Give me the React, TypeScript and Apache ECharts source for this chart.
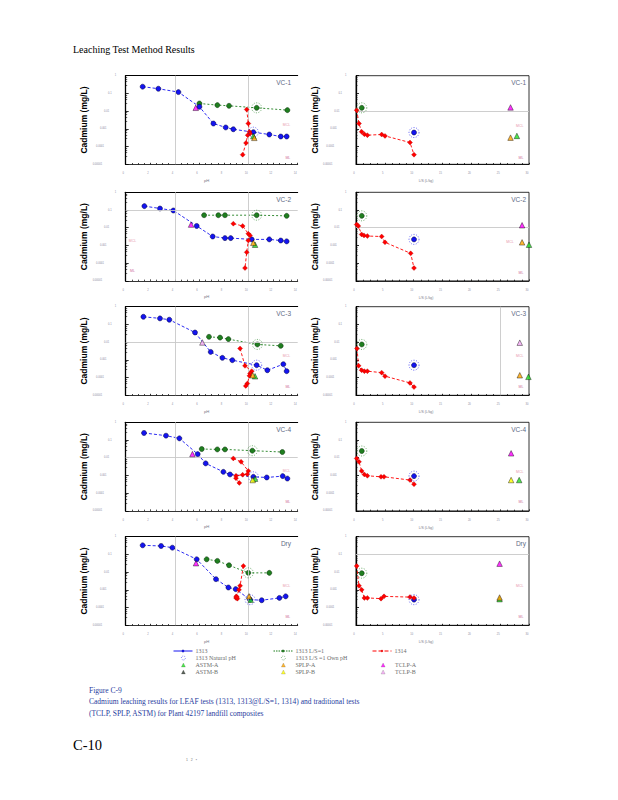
import React, { useEffect, useRef } from "react";
import * as echarts from "echarts";

// ---------------- text ----------------
const pageTitle = "Leaching Test Method Results";
const captionLines = [
  "Figure C-9",
  "Cadmium leaching results for LEAF tests (1313, 1313@L/S=1, 1314) and traditional tests",
  "(TCLP, SPLP, ASTM) for Plant 42197 landfill composites",
];
const pageNumber = "C-10";
const panelNames = ["VC-1", "VC-2", "VC-3", "VC-4", "Dry"];
const yTickLabels = ["0.00001", "0.0001", "0.001", "0.01", "0.1", "1"];
const phAxisName = "pH";
const lsAxisName = "L/S (L/kg)";
const yAxisName = "Cadmium (mg/L)";
const refLabels = ["MCL", "ML"];
const legendLine1 = ["1313"];
const legendMark1 = ["1313 Natural pH", "ASTM-A", "ASTM-B"];
const legendLine2 = ["1313 L/S=1"];
const legendMark2 = ["1313 L/S =1 Own pH", "SPLP-A", "SPLP-B"];
const legendLine3 = ["1314"];
const legendMark3 = ["TCLP-A", "TCLP-B"];
const tradNames = ["ASTM-A", "ASTM-B", "SPLP-A", "SPLP-B", "TCLP-A", "TCLP-B"];
const tradKeys = ["astmA", "astmB", "splpA", "splpB", "tclpA", "tclpB"];

// ---------------- data: pH panels [pH, mg/L] ----------------
const vc1Ph = {
  s1313: [[1.38, 0.24], [2.66, 0.184], [4.29, 0.119], [6.0, 0.0176], [7.14, 0.002], [8.14, 0.0012], [8.76, 0.00095], [10.39, 0.00065], [11.69, 0.00048], [12.62, 0.00037], [13.1, 0.00037]],
  nat1313: [[10.39, 0.00065]],
  ls1: [[6.0, 0.027], [7.46, 0.0219], [8.41, 0.02], [10.66, 0.0154], [13.16, 0.0114]],
  natLs1: [[10.66, 0.0154]],
  s1314: [[9.85, 0.0124], [9.98, 0.002], [10.07, 0.00068], [10.12, 0.00055], [9.93, 0.00044], [9.79, 0.00016], [9.52, 3.5e-5]],
  tclpA: [[5.7, 0.0154]], splpA: [[10.47, 0.00031]], astmA: [[10.39, 0.00039]],
};
const vc2Ph = {
  s1313: [[1.52, 0.166], [2.79, 0.122], [3.88, 0.094], [5.78, 0.0126], [7.08, 0.0032], [8.08, 0.0026], [8.55, 0.0026], [10.26, 0.0022], [11.69, 0.0022], [12.62, 0.0019], [13.1, 0.0017]],
  nat1313: [],
  ls1: [[6.38, 0.051], [7.54, 0.051], [8.08, 0.051], [10.66, 0.051], [13.1, 0.047]],
  natLs1: [[10.66, 0.051]],
  s1314: [[8.76, 0.017], [9.52, 0.0126], [9.98, 0.0046], [10.12, 0.0037], [9.98, 0.0019], [9.85, 0.00041], [9.71, 5.3e-5]],
  tclpA: [[5.32, 0.015]], splpA: [[10.39, 0.0014]], astmA: [[10.53, 0.0011]],
};
const vc3Ph = {
  s1313: [[1.44, 0.27], [2.79, 0.219], [3.55, 0.184], [5.64, 0.035], [6.92, 0.0028], [7.87, 0.0013], [8.68, 0.00096], [10.66, 0.0005], [11.53, 0.00026], [12.83, 0.00057], [13.1, 0.00023]],
  nat1313: [[10.66, 0.0005]],
  ls1: [[6.78, 0.02], [7.68, 0.018], [8.36, 0.0148], [10.72, 0.0074], [12.62, 0.0062]],
  natLs1: [[10.72, 0.0074]],
  s1314: [[9.31, 0.0044], [9.71, 0.00046], [10.26, 0.00023], [10.12, 0.00017], [10.07, 0.000125], [9.9, 4.6e-5], [9.77, 3.4e-5]],
  tclpB: [[6.24, 0.0096]], splpA: [[10.34, 0.000135]], astmA: [[10.53, 0.000118]],
};
const vc4Ph = {
  s1313: [[1.49, 0.25], [3.28, 0.176], [4.37, 0.124], [5.86, 0.016], [6.51, 0.0048], [7.95, 0.0016], [8.49, 0.00114], [10.39, 0.00084], [11.48, 0.00077], [12.78, 0.00092], [13.16, 0.00067]],
  nat1313: [[10.39, 0.00084]],
  ls1: [[6.19, 0.031], [7.46, 0.0295], [8.08, 0.0295], [10.31, 0.025], [12.75, 0.021]],
  natLs1: [[10.31, 0.025]],
  s1314: [[8.76, 0.0092], [9.39, 0.0059], [9.98, 0.0018], [9.9, 0.00118], [9.52, 0.0011], [8.98, 0.00095], [8.98, 0.0007], [9.25, 0.00038]],
  tclpA: [[5.43, 0.016]], splpB: [[10.34, 0.00055]], astmA: [[10.53, 0.00066]],
};
const dryPh = {
  s1313: [[1.38, 0.326], [2.88, 0.3], [3.8, 0.24], [5.78, 0.053], [7.35, 0.004], [8.36, 0.00136], [8.95, 0.0011], [10.12, 0.00028], [11.07, 0.00026], [12.51, 0.00035], [13.02, 0.00043]],
  nat1313: [[10.12, 0.00028]],
  ls1: [[6.59, 0.053], [7.46, 0.043], [8.41, 0.0245], [9.98, 0.0091], [11.69, 0.0091]],
  natLs1: [[9.98, 0.0091]],
  s1314: [[9.58, 0.0224], [9.31, 0.0017], [9.22, 0.001], [8.98, 0.00035], [9.09, 0.00032], [9.0, 0.00043], [9.05, 0.00039]],
  tclpA: [[5.72, 0.032]], splpA: [[10.04, 0.00043]], astmA: [[10.17, 0.00028]],
};

// ---------------- data: L/S panels [L/S, mg/L] ----------------
const vc1Ls = {
  s1313: [[10.06, 0.00062]], ls1: [[1, 0.0154]],
  s1314: [[0.12, 0.0114], [0.52, 0.002], [0.98, 0.00068], [1.45, 0.0005], [1.97, 0.00044], [4.45, 0.00048], [5.03, 0.0004], [9.36, 0.00017], [10.06, 3.5e-5]],
  tclpA: [[26.8, 0.0162]], splpA: [[26.8, 0.00032]], astmA: [[27.9, 0.0004]],
};
const vc2Ls = {
  s1313: [[10.06, 0.0022]], ls1: [[1, 0.047]],
  s1314: [[0.12, 0.015], [0.4, 0.0126], [0.98, 0.0042], [1.39, 0.0037], [1.97, 0.0034], [4.45, 0.0032], [5.03, 0.0015], [9.48, 0.00036], [10.06, 5.3e-5]],
  tclpA: [[28.8, 0.0138]], splpA: [[28.8, 0.0015]], astmA: [[30, 0.0011]],
};
const vc3Ls = {
  s1313: [[10.06, 0.0005]], ls1: [[1, 0.0074]],
  s1314: [[0.17, 0.0044], [0.46, 0.00046], [0.98, 0.00026], [1.45, 0.00023], [1.97, 0.00023], [4.45, 0.00019], [5.03, 0.00012], [9.36, 5e-5], [10.06, 2.9e-5]],
  tclpB: [[28.4, 0.0093]], splpA: [[28.4, 0.000135]], astmA: [[29.9, 0.00011]],
};
const vc4Ls = {
  s1313: [[10.06, 0.00092]], ls1: [[1, 0.024]],
  s1314: [[0.12, 0.0092], [0.52, 0.0059], [0.98, 0.0018], [1.45, 0.00114], [1.97, 0.00096], [4.34, 0.00084], [4.86, 0.00084], [9.36, 0.00055], [10.06, 0.00032]],
  tclpA: [[26.9, 0.0178]], splpB: [[26.9, 0.00055]], astmA: [[28.3, 0.00055]],
};
const dryLs = {
  s1313: [[10.06, 0.00028]], ls1: [[1, 0.0087]],
  s1314: [[0.12, 0.0224], [0.52, 0.0017], [0.98, 0.001], [1.45, 0.00035], [1.97, 0.00035], [4.34, 0.00032], [4.86, 0.00043], [9.36, 0.00039], [10.06, 0.00035]],
  tclpA: [[24.9, 0.03]], splpA: [[24.9, 0.00037]], astmA: [[24.9, 0.0003]],
};

// ---------------- reference lines / labels ----------------
const phGrayLines = [[1e-4], [0.1], [0.01], [0.01], [0.001]];
const phDashedLines = [[1e-3], [], [], [], []];
const phMlLines = [[1.7e-5], [1.9e-5], [], [], []];
const phVerticalLines = [4, 10];
const lsGrayLines = [[0.01, 1e-4], [0.01], [0.001], [], [0.1]];
const lsDashedLines = [[], [], [], [0.001], [0.001]];
const lsMlLines = [[1.7e-5], [1.9e-5], [], [1.8e-5], [1.8e-5]];
const lsVerticalLines = [[], [], [25], [], []];
const phMclPos = [[13.08, 0.00155], [0.55, 0.0019], [13.08, 0.0017], [13.08, 0.0018], [13.08, 0.00155]];
const phMlPos = [[13.2, 2.4e-5], [0.55, 3.4e-5], [13.2, 2.95e-5], [13.2, 3.2e-5], [13.2, 2.9e-5]];
const lsMclPos = [[28.4, 0.0014], [26.7, 0.00155], [28.4, 0.0017], [28.4, 0.0016], [28.4, 0.00155]];
const lsMlPos = [[28.6, 2.4e-5], [28.6, 2.75e-5], [28.6, 2.95e-5], [28.6, 3.1e-5], [28.6, 2.9e-5]];

const phPanels = [vc1Ph, vc2Ph, vc3Ph, vc4Ph, dryPh];
const lsPanels = [vc1Ls, vc2Ls, vc3Ls, vc4Ls, dryLs];

// ---------------- layout / style ----------------
const SERIF = "'Liberation Serif','Times New Roman',serif";
const SANS = "'Liberation Sans',Arial,sans-serif";
const GRID_X = [125.7, 356];
const GRID_W = [172, 173];
const ROW_TOP = [75.7, 192.3, 306.7, 422.3, 536.7];
const GRID_H = 88.6;
const tradColors = ["#22e022", "#2e3a2e", "#ffa500", "#ffff00", "#ff00ff", "#f4a6f4"];
const BLUE = "#1414f0";
const GREEN = "#1f7f1f";
const RED = "#ff0000";
const TICK_COLOR = "#8a8aa0";
const LABEL_PAD = [0, 4.4, 7, 9.6, 12.1, 14];

function buildOption() {
  const grid: any[] = [];
  const xAxis: any[] = [];
  const topAxes: any[] = [];
  const yAxis: any[] = [];
  const series: any[] = [];
  const graphic: any[] = [];

  const rich: any = {};
  for (let k = 0; k < 6; k++) {
    rich["p" + k] = { fontSize: 2.6, color: TICK_COLOR, fontFamily: SANS, padding: [0, LABEL_PAD[5 - k], 0, 0] };
  }

  for (let i = 0; i < 5; i++) {
    for (let side = 0; side < 2; side++) {
      const gi = i * 2 + side;
      const isPh = side === 0;
      const d: any = isPh ? phPanels[i] : lsPanels[i];
      grid.push({
        left: GRID_X[side], top: ROW_TOP[i], width: GRID_W[side], height: GRID_H,
        show: !isPh, borderColor: "#000", borderWidth: 0.8, backgroundColor: "transparent",
      });
      xAxis.push({
        gridIndex: gi, type: "value", min: 0, max: isPh ? 14 : 30, interval: isPh ? 2 : 5, position: "bottom",
        axisLine: { show: true, onZero: false, lineStyle: { color: "#000", width: 0.8 } },
        axisTick: { show: true, inside: true, length: 1.5, lineStyle: { color: "#000", width: 0.8 } },
        minorTick: { show: true, splitNumber: 4, length: 1.2, lineStyle: { color: "#000", width: 0.8 } },
        axisLabel: { fontSize: 2.6, color: TICK_COLOR, margin: 8, padding: [0, isPh ? 4.8 : 4, 0, 0], fontFamily: SANS },
        splitLine: { show: false },
        name: isPh ? phAxisName : lsAxisName, nameLocation: "middle", nameGap: isPh ? 13.7 : 15.4,
        nameTextStyle: { fontSize: isPh ? 4.2 : 3.4, color: "#7a7a8a", fontFamily: SANS, padding: isPh ? [0, 10, 0, 0] : [0, 33, 0, 0] },
      });
      if (isPh) {
        topAxes.push({
          gridIndex: gi, type: "value", min: 0, max: 14, position: "top",
          axisLine: { show: true, onZero: false, lineStyle: { color: "#000", width: 1 } },
          axisTick: { show: false }, axisLabel: { show: false }, splitLine: { show: false },
        });
      }
      yAxis.push({
        gridIndex: gi, type: "log", logBase: 10, min: 1e-5, max: 1,
        axisLine: { show: true, lineStyle: { color: "#000", width: 1.3 } },
        axisTick: { show: true, inside: true, length: 3, lineStyle: { color: "#000", width: 0.8 } },
        minorTick: { show: true, splitNumber: 5, length: 1.5, lineStyle: { color: "#000", width: 0.6 } },
        axisLabel: {
          margin: 9.6, fontSize: 2.6, color: TICK_COLOR,
          formatter: (v: number) => {
            const k = Math.max(0, Math.min(5, Math.round(Math.log10(v)) + 5));
            return "{p" + k + "|" + yTickLabels[k] + "}";
          },
          rich,
        },
        splitLine: { show: false },
        name: yAxisName, nameLocation: "middle", nameGap: isPh ? 34.8 : 32.5,
        nameTextStyle: { fontSize: 8.5, fontWeight: "bold", color: "#000", fontFamily: SANS },
      });

      const ml: any[] = [];
      const grays = isPh ? phGrayLines[i] : lsGrayLines[i];
      const dashes = isPh ? phDashedLines[i] : lsDashedLines[i];
      const mls = isPh ? phMlLines[i] : lsMlLines[i];
      const verts = isPh ? phVerticalLines : lsVerticalLines[i];
      verts.forEach((v) => ml.push({ xAxis: v, lineStyle: { color: "#c8c8c8", width: 0.9, type: "solid" } }));
      grays.forEach((v) => ml.push({ yAxis: v, lineStyle: { color: "#c8c8c8", width: 0.9, type: "solid" } }));
      dashes.forEach((v) => ml.push({ yAxis: v, lineStyle: { color: "#a81c1c", width: 1, type: [5, 3] } }));
      mls.forEach((v) => ml.push({ yAxis: v, lineStyle: { color: "#d40000", width: 1, type: "solid" } }));
      const mclPos = isPh ? phMclPos[i] : lsMclPos[i];
      const mlPos = isPh ? phMlPos[i] : lsMlPos[i];
      series.push({
        type: "line", name: "refs" + gi, xAxisIndex: gi, yAxisIndex: gi, data: [], z: 1, silent: true,
        markLine: { silent: true, symbol: ["none", "none"], label: { show: false }, data: ml, animation: false },
        markPoint: {
          silent: true, animation: false,
          data: [
            { name: refLabels[0], coord: mclPos, symbol: "rect", symbolSize: 1, itemStyle: { color: "rgba(0,0,0,0)" },
              label: { show: true, position: "inside", formatter: refLabels[0], color: "#e89aae", fontSize: 3.5, fontFamily: SANS } },
            { name: refLabels[1], coord: mlPos, symbol: "rect", symbolSize: 1, itemStyle: { color: "rgba(0,0,0,0)" },
              label: { show: true, position: "inside", formatter: refLabels[1], color: "#cf6f9c", fontSize: 3.5, fontFamily: SANS } },
          ],
        },
      });

      const common = { xAxisIndex: gi, yAxisIndex: gi, animation: false };
      series.push({
        ...common, type: "line", name: "1313 L/S=1", data: d.ls1, z: 3,
        symbol: "circle", symbolSize: 5, showSymbol: true,
        lineStyle: { color: GREEN, width: 0.9, type: [2, 2] },
        itemStyle: { color: GREEN, borderColor: "#042a04", borderWidth: 0.5 },
      });
      series.push({
        ...common, type: "line", name: "1313", data: d.s1313, z: 4,
        symbol: "circle", symbolSize: 5, showSymbol: true,
        lineStyle: { color: BLUE, width: 0.9, type: [3, 2] },
        itemStyle: { color: BLUE, borderColor: "#00003a", borderWidth: 0.5 },
      });
      series.push({
        ...common, type: "line", name: "1314", data: d.s1314, z: 5,
        symbol: "diamond", symbolSize: 5, showSymbol: true,
        lineStyle: { color: RED, width: 0.9, type: [3, 2] },
        itemStyle: { color: RED, borderColor: "#a00000", borderWidth: 0.3 },
      });
      series.push({
        ...common, type: "scatter", name: "1313 Natural pH", data: isPh ? d.nat1313 : d.s1313, z: 6,
        symbol: "circle", symbolSize: 10,
        itemStyle: { color: "rgba(0,0,0,0)", borderColor: BLUE, borderWidth: 0.8, borderType: [1, 1.5] },
      });
      series.push({
        ...common, type: "scatter", name: "1313 L/S =1 Own pH", data: isPh ? d.natLs1 : d.ls1, z: 6,
        symbol: "circle", symbolSize: 10,
        itemStyle: { color: "rgba(0,0,0,0)", borderColor: GREEN, borderWidth: 0.8, borderType: [1, 1.5] },
      });
      tradNames.forEach((nm, t) => {
        series.push({
          ...common, type: "scatter", name: nm, data: d[tradKeys[t]] || [], z: 7,
          symbol: "triangle", symbolSize: 5.5,
          itemStyle: { color: tradColors[t], borderColor: "#000", borderWidth: 0.5 },
        });
      });

      graphic.push({
        type: "text", silent: true,
        style: {
          text: panelNames[i], x: isPh ? 291 : 526, y: ROW_TOP[i] + 7,
          align: "right", verticalAlign: "middle", fontSize: 6.5, fontFamily: SANS, fill: "#626a84",
        },
      });
    }
  }

  graphic.push({
    type: "text", silent: true,
    style: { text: pageTitle, x: 73, y: 49, verticalAlign: "middle", fontSize: 10, fontFamily: SERIF, fill: "#000" },
  });
  const capY = [690, 701.5, 713];
  captionLines.forEach((t, k) =>
    graphic.push({
      type: "text", silent: true,
      style: { text: t, x: 89, y: capY[k], verticalAlign: "middle", fontSize: 7.5, fontFamily: SERIF, fill: "#1f3c9e" },
    })
  );
  graphic.push({
    type: "text", silent: true,
    style: { text: pageNumber, x: 73, y: 745, verticalAlign: "middle", fontSize: 14.5, fontFamily: SERIF, fill: "#000" },
  });
  graphic.push({
    type: "text", silent: true,
    style: { text: "1   2   ▪", x: 186, y: 760, verticalAlign: "middle", fontSize: 3.5, fontFamily: SANS, fill: "#777" },
  });

  const markItem = (nm: string) => {
    const t = tradNames.indexOf(nm);
    if (t >= 0) {
      return { name: nm, icon: "triangle", itemStyle: { color: tradColors[t], borderColor: "#222", borderWidth: 0.2 } };
    }
    const c = nm.indexOf("L/S") >= 0 ? GREEN : BLUE;
    return { name: nm, icon: "circle", itemStyle: { color: "rgba(0,0,0,0)", borderColor: c, borderWidth: 0.8, borderType: [0.8, 1.2] } };
  };
  const lineItem = (nm: string) => {
    const type = nm === "1313" ? "solid" : nm === "1314" ? [4, 2] : [1.5, 1];
    return { name: nm, lineStyle: { type, width: 1 }, itemStyle: { borderWidth: 0.2 } };
  };

  const textStyle = { fontSize: 6, lineHeight: 6, fontFamily: SERIF, color: "#6e6e6e" };
  const lineLegend = {
    orient: "vertical", padding: 0, itemWidth: 19, itemHeight: 3, itemGap: 1, selectedMode: false,
    textStyle: { ...textStyle, padding: [0, 0, 0, -2] },
  };
  const markLegend = {
    orient: "vertical", padding: 0, itemWidth: 4, itemHeight: 4, itemGap: 1, selectedMode: false,
    textStyle: { ...textStyle, padding: [0, 0, 0, 5] },
  };
  const legend = [
    { ...lineLegend, left: 173, top: 648, data: legendLine1.map(lineItem) },
    { ...markLegend, left: 181, top: 655, data: legendMark1.map(markItem) },
    { ...lineLegend, left: 273, top: 648, data: legendLine2.map(lineItem) },
    { ...markLegend, left: 281, top: 655, data: legendMark2.map(markItem) },
    { ...lineLegend, left: 372, top: 648, data: legendLine3.map(lineItem) },
    { ...markLegend, left: 381, top: 662, data: legendMark3.map(markItem) },
  ];

  return {
    animation: false,
    backgroundColor: "#fff",
    grid,
    xAxis: [...xAxis, ...topAxes],
    yAxis,
    series,
    legend,
    graphic,
  };
}

export default function App() {
  const ref = useRef<HTMLDivElement>(null);
  useEffect(() => {
    if (!ref.current) return;
    const chart = echarts.init(ref.current, undefined, { renderer: "svg" });
    chart.setOption(buildOption() as any);
    return () => chart.dispose();
  }, []);
  return <div ref={ref} style={{ position: "absolute", left: 0, top: 0, width: 618, height: 800 }} />;
}
